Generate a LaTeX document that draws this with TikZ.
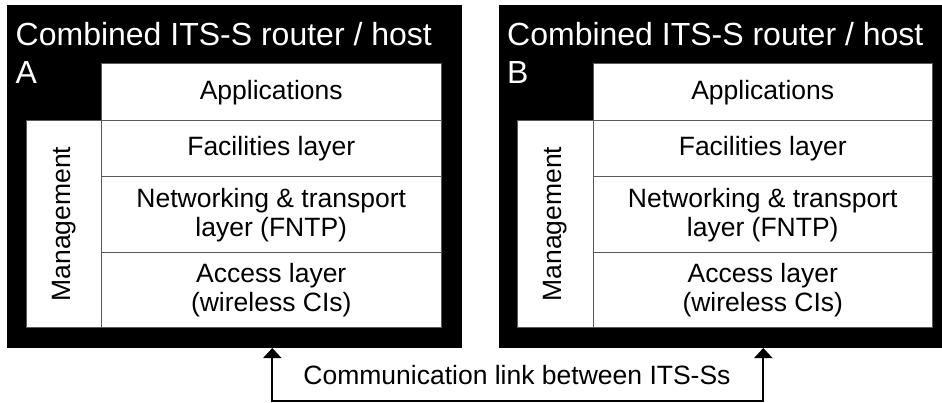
\documentclass[tikz,border=0pt]{standalone}
\usepackage{fontspec}
\setmainfont{Liberation Sans}
\usetikzlibrary{arrows.meta}
\newcommand{\itsstack}[3]{% #1 prefix, #2 x shift, #3 label letter
  \begin{scope}[xshift=#2]
    \node[hostbox, anchor=north west, minimum width=455, minimum height=343] (#1host) at (7,5) {};
    \node[titletext, anchor=base west] (#1title) at (15.5,45.7) {Combined ITS-S router / host};
    \node[titletext, anchor=base west] (#1letter) at (15.5,83.3) {#3};
    \node[layer, anchor=north west, minimum height=57] (#1app) at (101.5,64) {Applications};
    \node[layer, anchor=north, minimum height=56] (#1fac) at (#1app.south) {Facilities layer};
    \node[layer, anchor=north, minimum height=76] (#1net) at (#1fac.south) {Networking \& transport\\layer (FNTP)};
    \node[layer, anchor=north, minimum height=74] (#1acc) at (#1net.south) {Access layer\\(wireless CIs)};
    \node[mgmt, anchor=north east] (#1mgmt) at (#1fac.north west) {};
    \node[rotate=90, layerfont] (#1mgmtlabel) at (#1mgmt.center) {Management};
  \end{scope}
}
\begin{document}
\begin{tikzpicture}[x=1pt, y=-1pt,
  hostbox/.style={fill=black, inner sep=0pt, outer sep=0pt},
  titletext/.style={text=white, inner sep=0pt, font=\fontsize{32}{36}\selectfont},
  layerfont/.style={font=\fontsize{26.5}{29.5}\selectfont},
  layer/.style={fill=white, draw=black!65, line width=1pt, inner sep=0pt, outer sep=0pt,
    minimum width=339.5, align=center, layerfont},
  mgmt/.style={fill=white, draw=black!65, line width=1pt, inner sep=0pt, outer sep=0pt,
    minimum width=75.5, minimum height=206},
  link/.style={line width=2pt, {Triangle[width=18pt,length=10pt]}-{Triangle[width=18pt,length=10pt]}},
]
\useasboundingbox (0,0) rectangle (942,403);
\itsstack{a}{0}{A}
\itsstack{b}{491.5}{B}
\coordinate (la) at (272.3,400.5);
\coordinate (lb) at (763.3,400.5);
\draw[link] (la |- ahost.south) -- (la) -- (lb) -- (lb |- bhost.south);
\node[layerfont, anchor=base, inner sep=0pt] (linklabel) at (517,384) {Communication link between ITS-Ss};
\end{tikzpicture}
\end{document}
